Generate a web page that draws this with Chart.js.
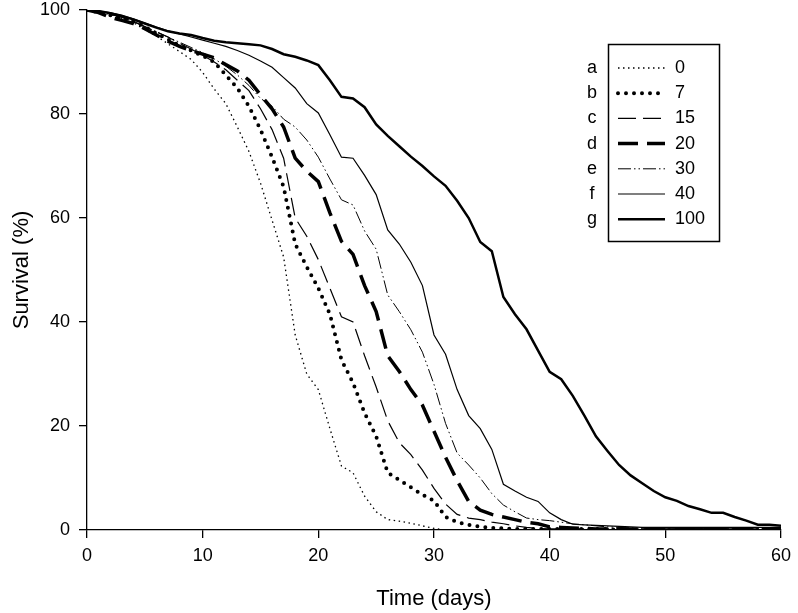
<!DOCTYPE html>
<html>
<head>
<meta charset="utf-8">
<script src="https://cdn.jsdelivr.net/npm/chart.js@4.4.1/dist/chart.umd.min.js"></script>
<style>
  body { margin: 0; background: #fff; }
  canvas { display: block; }
</style>
</head>
<body>
<canvas id="grafico" width="798" height="613"></canvas>
<script>
// time axis (days)
let days = [0, 1, 2, 3, 4, 5, 6, 7, 8, 9, 10, 11, 12, 13, 14, 15, 16, 17, 18, 19, 20,
  21, 22, 23, 24, 25, 26, 27, 28, 29, 30, 31, 32, 33, 34, 35, 36, 37, 38, 39, 40,
  41, 42, 43, 44, 45, 46, 47, 48, 49, 50, 51, 52, 53, 54, 55, 56, 57, 58, 59, 60];

let letters = ['a', 'b', 'c', 'd', 'e', 'f', 'g'];
let doses = ['0', '7', '15', '20', '30', '40', '100'];

// survival (%), one value per day
let surv0 = [100, 99.6, 99.2, 98.3, 97.6, 96.2, 95, 93.5, 92, 90.5, 88, 84.8, 82, 77.5, 72.8, 66.7, 59.6, 52.5, 37.5, 30, 27,
  19.5, 12.3, 11, 6.5, 3.5, 2, 1.7, 1.3, 0.8, 0.3, 0, 0, 0, 0, 0, 0, 0, 0, 0, 0,
  0, 0, 0, 0, 0, 0, 0, 0, 0, 0, 0, 0, 0, 0, 0, 0, 0, 0, 0, 0];
let surv7 = [100, 99.6, 99, 98.5, 97.8, 96.8, 95.5, 94.3, 93.2, 92.2, 91.2, 90, 87.5, 85, 81.5, 77, 71.7, 66, 55, 50.6, 46.5,
  41.5, 32.7, 28.3, 22.5, 18, 11, 9.6, 8.2, 6.8, 5.6, 2.5, 1.5, 1, 0.6, 0.4, 0.3, 0.2, 0.2, 0.2, 0.2,
  0.2, 0.2, 0.2, 0.2, 0.2, 0, 0, 0, 0, 0, 0, 0, 0, 0, 0, 0, 0, 0, 0, 0];
let surv15 = [100, 99.6, 99.2, 98.6, 97.8, 96.8, 95.8, 94.8, 93.6, 92.5, 91.3, 90, 88.5, 86.5, 84.5, 81, 77, 71.5, 60, 56.5, 52,
  46.5, 41, 40, 33.5, 27.5, 21, 16.8, 14.5, 11.5, 8, 5, 3, 2.3, 2, 1.5, 1.2, 0.8, 0.5, 0.3, 0.2,
  0.2, 0.2, 0.2, 0.2, 0.2, 0.2, 0.2, 0.2, 0.2, 0.2, 0.2, 0.2, 0.2, 0.2, 0.2, 0.2, 0.2, 0.2, 0.2, 0.2];
let surv20 = [100, 99.5, 98.6, 98, 97.4, 96.4, 95.2, 94, 93, 92.2, 91.5, 90.8, 89.5, 88.3, 86.5, 83.7, 81, 77.5, 71.5, 69, 67,
  61, 55.5, 53, 47, 42, 33.5, 30.5, 27, 24, 19, 14, 9.5, 5.5, 3.8, 3, 2.5, 2, 1.5, 1.2, 0.6,
  0.5, 0.4, 0.3, 0.2, 0.2, 0.2, 0.2, 0.2, 0.2, 0.2, 0.2, 0.2, 0.2, 0.2, 0.2, 0.2, 0.2, 0.2, 0.2, 0.2];
let surv30 = [100, 99.7, 99.2, 98.6, 97.8, 96.8, 95.8, 94.8, 93.8, 92.8, 91.8, 90.6, 89.2, 87.5, 85.5, 83, 81.5, 79, 77.5, 75, 71.7,
  67.5, 63.5, 62.5, 57.5, 54, 45.2, 42, 38.5, 34.2, 28, 20.5, 14.8, 12.5, 10, 7, 4.8, 3.5, 2.3, 2, 1.8,
  1.5, 1.2, 1, 0.8, 0.6, 0.5, 0.4, 0.4, 0.4, 0.4, 0.3, 0.3, 0.3, 0.3, 0.3, 0.2, 0.2, 0.2, 0.2, 0.2];
let surv40 = [100, 99.8, 99.5, 99, 98.3, 97.5, 96.7, 96, 95.4, 94.8, 94.2, 93.6, 93, 92.2, 91.3, 90.2, 89, 87, 85, 82, 80.2,
  76, 71.7, 71.5, 68.2, 64.5, 57.7, 55, 51.5, 47, 37.5, 33.8, 27, 22, 19.5, 15.5, 8.8, 7.5, 6.3, 5.5, 3.3,
  2, 1.1, 1, 0.9, 0.8, 0.7, 0.6, 0.5, 0.5, 0.5, 0.5, 0.5, 0.5, 0.5, 0.5, 0.5, 0.5, 0.5, 0.5, 0.5];
let surv100 = [100, 99.8, 99.4, 98.8, 98.2, 97.4, 96.6, 95.9, 95.5, 95.2, 94.6, 94.1, 93.8, 93.6, 93.4, 93.2, 92.5, 91.5, 91, 90.3, 89.4,
  86.5, 83.3, 83, 81.3, 78, 75.8, 73.8, 71.8, 70, 68, 66.2, 63.3, 60, 55.4, 53.6, 44.8, 41.5, 38.6, 34.5, 30.4,
  29, 25.8, 22, 18, 15.2, 12.5, 10.5, 9, 7.5, 6.3, 5.6, 4.6, 4, 3.3, 3.3, 2.5, 1.8, 1, 1, 0.8];

let fonte = '"Liberation Sans", Arial, sans-serif';

// legend drawn by hand: letters outside the box, line samples and doses inside
const legendaLetras = {
  id: 'legendaLetras',
  afterDraw(chart) {
    const ctx = chart.ctx;
    ctx.save();
    ctx.strokeStyle = '#000';
    ctx.fillStyle = '#000';
    ctx.lineWidth = 1.5;
    ctx.setLineDash([]);
    ctx.strokeRect(608.5, 44.5, 111, 197);
    ctx.font = '18px ' + fonte;
    ctx.textBaseline = 'middle';
    chart.data.datasets.forEach((ds, i) => {
      let y = 68 + i * 25.2;
      ctx.textAlign = 'center';
      ctx.fillText(letters[i], 592, y);
      ctx.textAlign = 'left';
      ctx.fillText(ds.label, 675, y);
      ctx.beginPath();
      ctx.setLineDash(ds.borderDash || []);
      ctx.lineWidth = ds.borderWidth;
      ctx.lineCap = ds.borderCapStyle || 'butt';
      ctx.moveTo(618, y);
      ctx.lineTo(665, y);
      ctx.stroke();
    });
    ctx.restore();
  }
};

function serie(label, data, width, dash, cap) {
  return {
    label: label,
    data: data,
    borderColor: '#000',
    backgroundColor: '#000',
    borderWidth: width,
    borderDash: dash,
    borderCapStyle: cap || 'butt',
    pointRadius: 0,
    tension: 0,
    fill: false
  };
}

let ctx = document.getElementById('grafico').getContext('2d');
let grafico = new Chart(ctx, {
  type: 'line',
  data: {
    labels: days,
    datasets: [
      serie(doses[0], surv0, 1.3, [1.5, 3.5]),
      serie(doses[1], surv7, 4, [0, 8], 'round'),
      serie(doses[2], surv15, 1.2, [18, 7]),
      serie(doses[3], surv20, 3.5, [20, 9]),
      serie(doses[4], surv30, 1, [13, 3, 1.5, 3, 1.5, 3]),
      serie(doses[5], surv40, 1.2, []),
      serie(doses[6], surv100, 2.5, [])
    ]
  },
  options: {
    responsive: false,
    animation: false,
    devicePixelRatio: 1,
    layout: { padding: { top: 10, right: 12, left: 0, bottom: 0 } },
    plugins: {
      legend: { display: false },
      tooltip: { enabled: false }
    },
    scales: {
      x: {
        type: 'linear',
        min: 0,
        max: 60,
        afterFit: (scale) => { scale.height = 83; },
        border: { color: '#000', width: 1.3 },
        grid: { drawOnChartArea: false, drawTicks: true, tickLength: 8, color: '#000', lineWidth: 1.3 },
        ticks: { stepSize: 10, color: '#000', padding: 7, font: { size: 18, family: fonte } },
        title: { display: true, text: 'Time (days)', color: '#000', font: { size: 22, family: fonte }, padding: { top: 0, bottom: 1 } }
      },
      y: {
        min: 0,
        max: 100,
        // fixed width, and no extra room above the "100" label
        afterFit: (scale) => { scale.width = 87; scale.paddingTop = 0; scale.paddingBottom = 0; },
        border: { color: '#000', width: 1.3 },
        grid: { drawOnChartArea: false, drawTicks: true, tickLength: 8, color: '#000', lineWidth: 1.3 },
        ticks: { stepSize: 20, color: '#000', padding: 9, font: { size: 18, family: fonte } },
        title: { display: true, text: 'Survival (%)', color: '#000', font: { size: 22, family: fonte }, padding: { top: 9, bottom: 0 } }
      }
    }
  },
  plugins: [legendaLetras]
});
</script>
</body>
</html>
